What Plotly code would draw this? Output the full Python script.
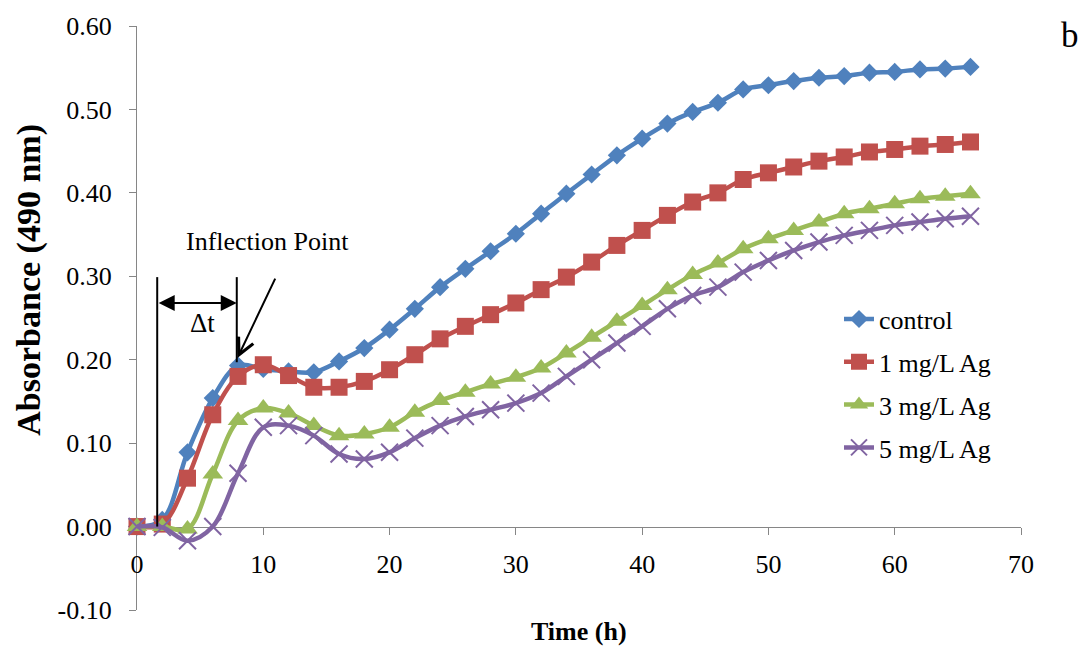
import plotly.graph_objects as go

# ---------------- data ----------------
time_h = list(range(0, 67, 2))
control = [0.000, 0.008, 0.089, 0.154, 0.193, 0.189, 0.186, 0.185, 0.198, 0.214, 0.236, 0.261,
           0.287, 0.309, 0.330, 0.351, 0.375, 0.399, 0.422, 0.445, 0.465, 0.483, 0.497, 0.508,
           0.524, 0.529, 0.534, 0.538, 0.540, 0.544, 0.545, 0.548, 0.549, 0.551]
ag1 = [0.000, 0.003, 0.058, 0.134, 0.180, 0.194, 0.181, 0.167, 0.167, 0.174, 0.188, 0.206,
       0.225, 0.240, 0.254, 0.268, 0.284, 0.299, 0.317, 0.337, 0.355, 0.373, 0.389, 0.400,
       0.416, 0.424, 0.431, 0.438, 0.443, 0.449, 0.452, 0.456, 0.458, 0.461]
ag3 = [0.000, 0.000, -0.003, 0.063, 0.127, 0.142, 0.136, 0.121, 0.109, 0.111, 0.119, 0.137,
       0.151, 0.161, 0.171, 0.179, 0.190, 0.208, 0.227, 0.246, 0.265, 0.284, 0.302, 0.316,
       0.333, 0.345, 0.355, 0.365, 0.375, 0.381, 0.387, 0.393, 0.396, 0.399]
ag5 = [0.000, -0.001, -0.017, 0.000, 0.064, 0.119, 0.121, 0.109, 0.087, 0.081, 0.089, 0.106,
       0.121, 0.132, 0.140, 0.148, 0.160, 0.180, 0.200, 0.220, 0.240, 0.261, 0.277, 0.287,
       0.305, 0.319, 0.331, 0.341, 0.349, 0.355, 0.361, 0.365, 0.369, 0.372]
series_names = ["control", "1 mg/L Ag", "3 mg/L Ag", "5 mg/L Ag"]
x_ticks = [0, 10, 20, 30, 40, 50, 60, 70]
y_ticks = [-0.10, 0.00, 0.10, 0.20, 0.30, 0.40, 0.50, 0.60]

# annotation anchors (data units)
dt_start, dt_end = 1.6, 7.9
dt_arrow_y = 0.268
guide_top = 0.299
guide2_bottom = 0.197
inflect_head = (7.95, 0.202)
inflect_tail = (11.0, 0.299)

# ---------------- styling ----------------
W, H = 1082, 650
L, R, T, B = 137, 1082 - 1021, 23, 650 - 610
PW, PH = W - L - R, H - T - B
FONT = "Liberation Serif, Times New Roman, serif"
AXIS_GREY = "#868686"

def px2paper_x(px):          # page pixel -> paper fraction
    return (px - L) / PW

def px2paper_y(py):
    return (H - B - py) / PH

styles = [
    dict(color="#4F81BD", symbol="diamond", size=14),
    dict(color="#C0504D", symbol="square", size=17),
    dict(color="#9BBB59", symbol="triangle-up", size=18),
    dict(color="#8064A2", symbol="x-thin", size=17),
]

fig = go.Figure()
for name, ys, st in zip(series_names, [control, ag1, ag3, ag5], styles):
    marker = dict(symbol=st["symbol"], size=st["size"], color=st["color"])
    if st["symbol"] == "x-thin":
        marker["line"] = dict(color=st["color"], width=2)
    fig.add_trace(go.Scatter(
        x=time_h, y=ys, mode="lines+markers", name=name, legendgroup=name,
        line=dict(color=st["color"], width=4.5, shape="spline", smoothing=1),
        marker=marker, cliponaxis=False,
    ))

ymin, ymax = y_ticks[0], y_ticks[-1]

fig.update_layout(
    width=W, height=H,
    margin=dict(l=L, r=R, t=T, b=B),
    paper_bgcolor="white", plot_bgcolor="white",
    font=dict(family=FONT, color="black", size=26),
    showlegend=True,
    legend=dict(
        x=px2paper_x(839), y=px2paper_y(294), xanchor="left", yanchor="top",
        font=dict(family=FONT, size=26, color="black"),
        bgcolor="rgba(0,0,0,0)", tracegroupgap=6, traceorder="grouped",
    ),
    xaxis=dict(
        range=[0, 70], tickvals=x_ticks, ticktext=[str(v) for v in x_ticks],
        ticks="outside", ticklen=7, tickcolor=AXIS_GREY, tickwidth=1.3,
        showline=True, linecolor=AXIS_GREY, linewidth=1.3,
        showgrid=False, zeroline=False,
        anchor="free", position=(0 - ymin) / (ymax - ymin),
        tickfont=dict(family=FONT, size=26, color="black"),
        ticklabelstandoff=7, layer="below traces",
    ),
    yaxis=dict(
        range=[ymin, ymax], tickvals=y_ticks, ticktext=[f"{v:.2f}" for v in y_ticks],
        ticks="outside", ticklen=7, tickcolor=AXIS_GREY, tickwidth=1.3,
        showline=True, linecolor=AXIS_GREY, linewidth=1.3,
        showgrid=False, zeroline=False,
        tickfont=dict(family=FONT, size=26, color="black"),
        ticklabelstandoff=12, layer="below traces",
    ),
)

# guide lines
fig.add_shape(type="line", xref="x", yref="y", x0=dt_start, x1=dt_start, y0=0, y1=guide_top,
              line=dict(color="black", width=2))
fig.add_shape(type="line", xref="x", yref="y", x0=dt_end, x1=dt_end, y0=guide2_bottom, y1=guide_top,
              line=dict(color="black", width=2))

# double arrow for delta t
fig.add_annotation(x=dt_end, y=dt_arrow_y, ax=dt_start, ay=dt_arrow_y, xref="x", yref="y",
                   axref="x", ayref="y", text="", showarrow=True, arrowhead=2, startarrowhead=2,
                   arrowside="end+start", arrowsize=1.6, startarrowsize=1.6, arrowwidth=2,
                   arrowcolor="black", standoff=0, startstandoff=0)
# inflection arrow
fig.add_annotation(x=inflect_head[0], y=inflect_head[1], ax=inflect_tail[0], ay=inflect_tail[1],
                   xref="x", yref="y", axref="x", ayref="y", text="", showarrow=True,
                   arrowhead=5, arrowsize=1.6, arrowwidth=2, arrowcolor="black", standoff=0)

fig.add_annotation(x=5.15, y=0.244, xref="x", yref="y", text="\u0394t", showarrow=False,
                   xanchor="center", yanchor="middle",
                   font=dict(family=FONT, size=27, color="black"))
fig.add_annotation(x=10.33, y=0.342, xref="x", yref="y", text="Inflection Point", showarrow=False,
                   xanchor="center", yanchor="middle",
                   font=dict(family=FONT, size=26, color="black"))

# axis titles and panel letter
fig.add_annotation(x=px2paper_x(29), y=px2paper_y(278), xref="paper", yref="paper",
                   text="<b>Absorbance (490 nm)</b>", textangle=-90, showarrow=False,
                   xanchor="center", yanchor="middle",
                   font=dict(family=FONT, size=34, color="black"))
fig.add_annotation(x=0.5, y=px2paper_y(632), xref="paper", yref="paper",
                   text="<b>Time (h)</b>", showarrow=False,
                   xanchor="center", yanchor="middle",
                   font=dict(family=FONT, size=26, color="black"))
fig.add_annotation(x=px2paper_x(1070), y=px2paper_y(33), xref="paper", yref="paper",
                   text="b", showarrow=False, xanchor="center", yanchor="middle",
                   font=dict(family=FONT, size=35, color="black"))

fig.write_html(
    "out.html",
    config={"displayModeBar": False},
    post_script="document.body.style.margin='0';document.body.style.overflow='hidden';",
)
